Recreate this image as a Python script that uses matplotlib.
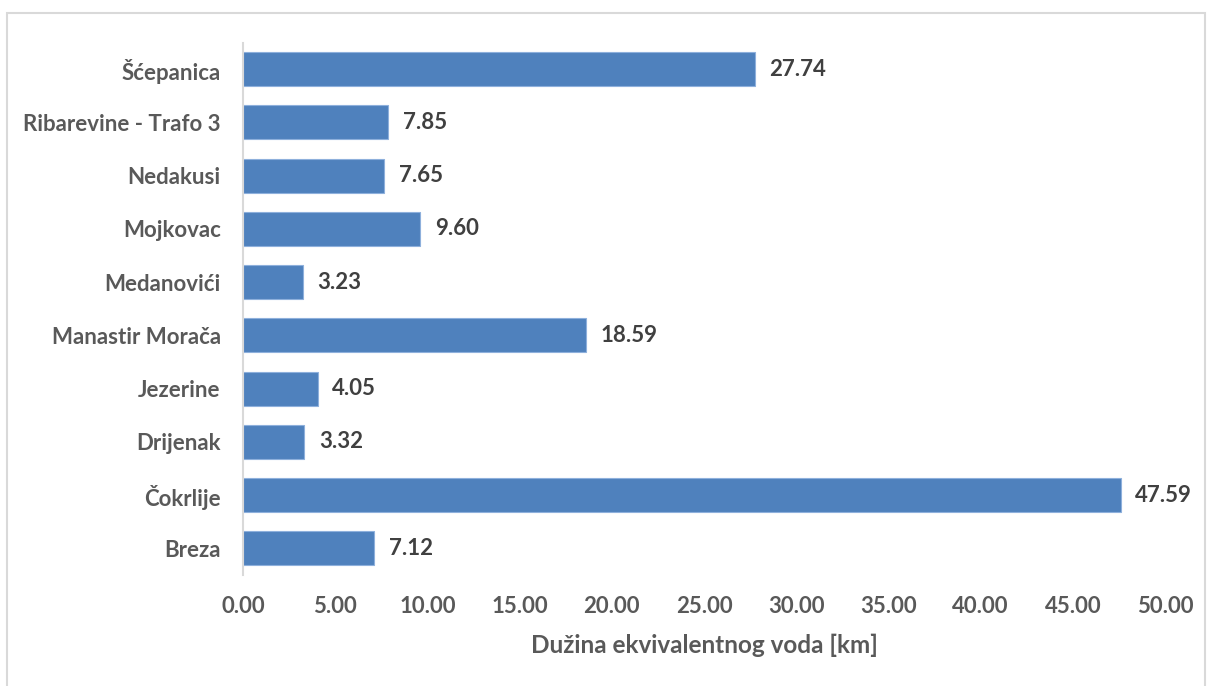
import matplotlib.pyplot as plt
from matplotlib.patches import Rectangle
import numpy as np

plt.rcParams['font.family'] = ['Lato', 'DejaVu Sans']

stations = ["Breza", "Čokrlije", "Drijenak", "Jezerine", "Manastir Morača",
            "Medanovići", "Mojkovac", "Nedakusi", "Ribarevine - Trafo 3", "Šćepanica"]
lengths = [7.12, 47.59, 3.32, 4.05, 18.59, 3.23, 9.60, 7.65, 7.85, 27.74]
xticks = [0, 5, 10, 15, 20, 25, 30, 35, 40, 45, 50]

fig = plt.figure(figsize=(12.11, 6.86), dpi=100)
# chart area border
fig.patches.append(Rectangle((7 / 1211, -0.01), 1198 / 1211, 1 - 13 / 686 + 0.01,
                             transform=fig.transFigure, fill=False,
                             edgecolor="#d9d9d9", linewidth=1.5))
ax = fig.add_axes([243 / 1211, 1 - 575 / 686, 922 / 1211, 532.5 / 686])

y = np.arange(len(stations))
ax.barh(y, lengths, height=0.64, color="#4f81bd", edgecolor="#8eb0dc", linewidth=0.8)

for yi, v in zip(y, lengths):
    ax.text(v + 0.8, yi, f"{v:.2f}", va="center", ha="left",
            fontsize=16, fontweight="bold", color="#404040")

ax.set_xlim(0, 50)
ax.set_ylim(-0.5, len(stations) - 0.5)
ax.set_yticks(y)
ax.set_yticklabels(stations, fontsize=16, fontweight="bold", color="#595959")
ax.set_xticks(xticks)
ax.set_xticklabels([f"{t:.2f}" for t in xticks], fontsize=16, fontweight="bold", color="#595959")
ax.tick_params(axis="x", length=0, pad=15)
ax.tick_params(axis="y", length=0, pad=16)
ax.set_xlabel("Dužina ekvivalentnog voda [km]", fontsize=17.5, fontweight="bold",
              color="#595959", labelpad=12)

for s in ["top", "right", "bottom"]:
    ax.spines[s].set_visible(False)
ax.spines["left"].set_color("#d9d9d9")
ax.spines["left"].set_linewidth(1.5)

fig.savefig("out.png", dpi=100)
